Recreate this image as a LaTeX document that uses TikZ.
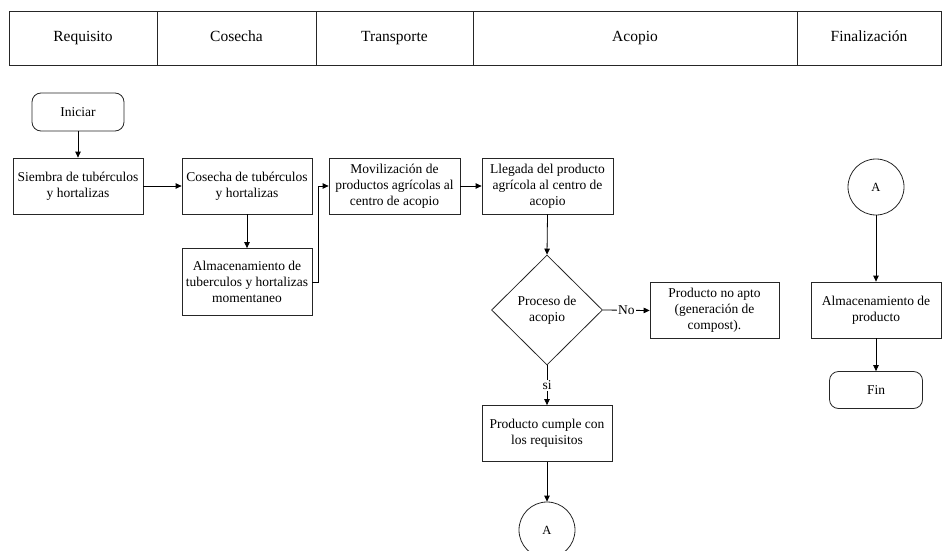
\documentclass[tikz,border=0pt]{standalone}
\usepackage{fontspec}
\setmainfont{Liberation Serif}
\usetikzlibrary{shapes.geometric,arrows.meta}
\usetikzlibrary{positioning}

\begin{document}
\begin{tikzpicture}[x=1pt,y=-1pt,
>={Triangle[length=6pt,width=5.5pt]},
headnode/.style={rectangle, draw=black!85, line width=0.8pt, minimum height=54pt, inner sep=0pt,
text height=11pt, text depth=3.5pt, font=\fontsize{15.5}{18}\selectfont,
},
procnode/.style={rectangle, draw=black!85, line width=0.8pt, minimum width=130pt, minimum height=56pt,
align=center, inner sep=2pt, font=\fontsize{13.5}{16}\selectfont,
},
termnode/.style={rectangle, rounded corners=9pt, draw=black!85, line width=0.8pt, minimum width=92pt, minimum height=38pt,
font=\fontsize{13.5}{16}\selectfont,
},
decnode/.style={diamond, draw=black!85, line width=0.8pt, minimum width=111pt, minimum height=110pt, inner sep=0pt,
align=center, font=\fontsize{13.5}{16}\selectfont,
},
connnode/.style={circle, draw=black!85, line width=0.8pt, minimum size=56pt, inner sep=0pt,
font=\fontsize{12.5}{15}\selectfont,
},
flow/.style={line width=0.8pt, ->},
lbl/.style={fill=white, inner sep=1pt, font=\fontsize{13.5}{16}\selectfont},
]
\useasboundingbox (0,0) rectangle (942,551);
%Header
\node[headnode, minimum width=148pt] (hreq)  at (83,38)  {Requisito};
\node[headnode, minimum width=159pt] (hcos)  at (236.5,38) {Cosecha};
\node[headnode, minimum width=157pt] (htra)  at (394.5,38) {Transporte};
\node[headnode, minimum width=324pt] (hacp)  at (635,38) {Acopio};
\node[headnode, minimum width=144pt] (hfin)  at (869,38) {Finalización};
%Nodes
\node[termnode]  (iniciar)   at (78,112)  {Iniciar};
\node[procnode]  (siembra)   at (78,186)  {Siembra de tubérculos\\y hortalizas};
\node[procnode]  (cosecha)   at (247,186) {Cosecha de tubérculos\\y hortalizas};
\node[procnode, minimum height=67pt] (almacen) at (247,282) {Almacenamiento de\\tuberculos y hortalizas\\momentaneo};
\node[procnode, minimum width=131pt]  (moviliz)   at (394.5,186) {Movilización de\\productos agrícolas al\\centro de acopio};
\node[procnode, minimum width=131pt]  (llegada)   at (547.5,186) {Llegada del producto\\agrícola al centro de\\acopio};
\node[decnode]   (proceso)   at (547,310) {Proceso de\\acopio};
\node[procnode, minimum width=129pt]  (noapto)    at (714.5,310.5) {Producto no apto\\(generación de\\compost).};
\node[procnode]  (cumple)    at (547,433.5) {Producto cumple con\\los requisitos};
\node[connnode]  (conA)      at (547,530) {A};
\node[connnode]  (conB)      at (876,187) {A};
\node[procnode]  (almprod)   at (876,310) {Almacenamiento de\\producto};
\node[termnode, minimum width=93pt, minimum height=37pt] (fin) at (876,390) {Fin};
%Lines
\draw[flow] (iniciar.south) -- (siembra.north);
\draw[flow] (siembra.east) -- (cosecha.west);
\draw[flow] (cosecha.south) -- (almacen.north);
\draw[flow] (almacen.east) -- ++(6,0) |- (moviliz.west);
\draw[flow] (moviliz.east) -- (llegada.west);
\draw[flow] (llegada.south) -- (proceso.north);
\draw[flow] (proceso.east) -- node[lbl] {No} (noapto.west);
\draw[flow] (proceso.south) -- node[lbl] {si} (cumple.north);
\draw[flow] (cumple.south) -- (conA.north);
\draw[flow] (conB.south) -- (almprod.north);
\draw[flow] (almprod.south) -- (fin.north);
\end{tikzpicture}
\end{document}
